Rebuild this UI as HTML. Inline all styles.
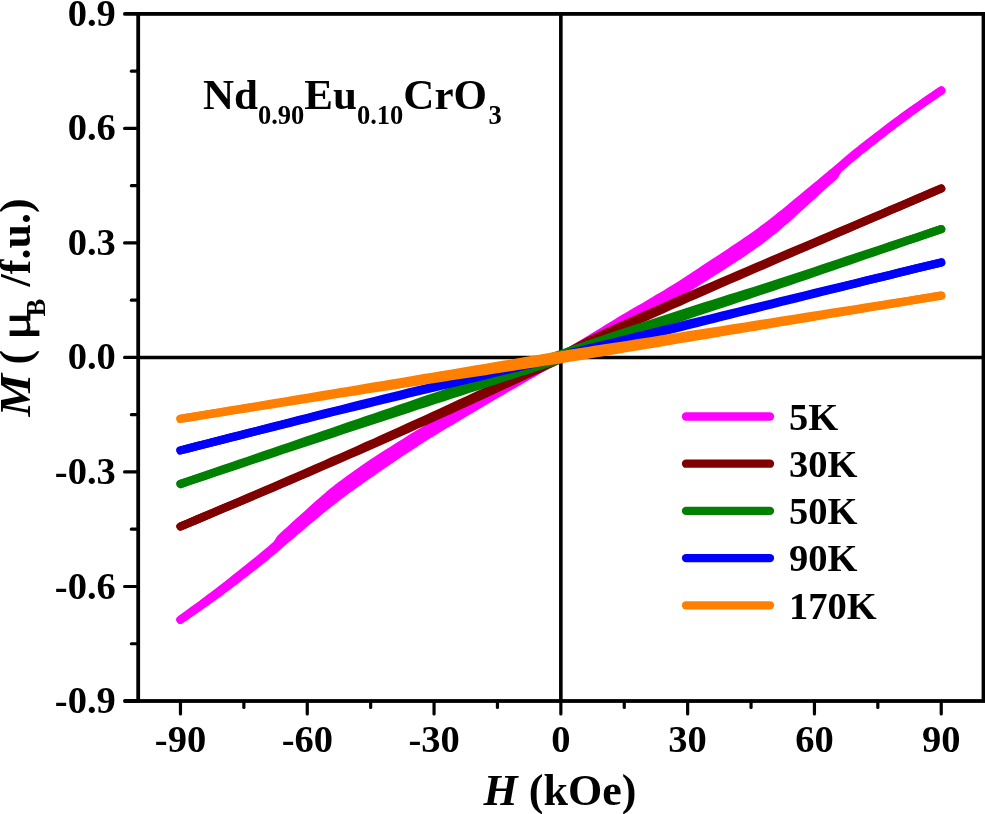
<!DOCTYPE html>
<html lang="en"><head><meta charset="utf-8"><title>M-H curves Nd0.90Eu0.10CrO3</title>
<style>
html,body{margin:0;padding:0;background:#fff;}
body{width:985px;height:814px;overflow:hidden;}
svg{display:block;will-change:transform;}
text{font-family:"Liberation Serif", "DejaVu Serif", serif;font-weight:bold;fill:#000;}
.tk{font-size:38.5px;}
.lg{font-size:38.5px;}
.ax{font-size:44px;}
.tt{font-size:43px;}
.it{font-style:italic;}
</style></head><body>
<svg width="985" height="814" viewBox="0 0 985 814">
<rect x="0" y="0" width="985" height="814" fill="#fff"/>
<g stroke="#000" fill="none">
<line x1="560.85" y1="13.90" x2="560.85" y2="701.00" stroke-width="3.6"/>
<line x1="138.20" y1="357.45" x2="983.50" y2="357.45" stroke-width="3.6"/>
</g>
<path d="M180.5,619.7 L184.7,616.6 L188.9,613.5 L193.1,610.4 L197.4,607.3 L201.6,604.2 L205.8,601.1 L210.1,597.9 L214.3,594.7 L218.5,591.5 L222.7,588.3 L227.0,585.0 L231.2,581.6 L235.4,578.2 L239.6,574.9 L243.9,571.5 L248.1,568.1 L252.3,564.8 L256.5,561.4 L260.8,558.0 L265.0,554.5 L269.2,551.0 L273.4,547.3 L276.8,544.4 L277.7,543.1 L280.6,538.4 L281.9,537.2 L286.1,533.3 L290.4,529.5 L294.6,525.6 L298.8,521.8 L303.0,518.0 L307.3,514.2 L311.5,510.4 L315.7,506.6 L319.9,502.8 L324.2,499.2 L328.4,495.5 L332.6,492.0 L336.8,488.6 L341.1,485.4 L345.3,482.2 L349.5,479.1 L353.8,476.0 L358.0,473.0 L362.2,470.0 L366.4,467.1 L370.7,464.3 L374.9,461.5 L379.1,458.8 L383.3,456.0 L387.6,453.3 L391.8,450.6 L396.0,447.9 L400.2,445.3 L404.5,442.6 L408.7,440.0 L412.9,437.3 L417.1,434.8 L421.4,432.2 L425.6,429.7 L429.8,427.2 L434.1,424.7 L438.3,422.3 L442.5,419.9 L446.7,417.5 L451.0,415.2 L455.2,412.8 L459.4,410.4 L463.6,408.0 L467.9,405.6 L472.1,403.3 L476.3,400.9 L480.5,398.6 L484.8,396.3 L489.0,394.0 L493.2,391.7 L497.5,389.5 L501.7,387.3 L505.9,385.1 L510.1,382.9 L514.4,380.6 L518.6,378.4 L522.8,376.1 L527.0,373.9 L531.3,371.6 L535.5,369.4 L539.7,367.1 L543.9,364.9 L548.2,362.6 L552.4,360.4 L556.6,358.2 L560.9,356.2 L565.1,354.0 L569.3,351.5 L573.5,349.0 L577.8,346.5 L582.0,344.0 L586.2,341.5 L590.4,338.9 L594.7,336.3 L598.9,333.8 L603.1,331.2 L607.3,328.6 L611.6,326.0 L615.8,323.4 L620.0,320.8 L624.2,318.3 L628.5,315.8 L632.7,313.3 L636.9,310.8 L641.2,308.4 L645.4,305.9 L649.6,303.4 L653.8,300.9 L658.1,298.4 L662.3,295.9 L666.5,293.4 L670.7,290.8 L675.0,288.3 L679.2,285.6 L683.4,283.0 L687.6,280.3 L691.9,277.5 L696.1,274.7 L700.3,271.9 L704.6,269.0 L708.8,266.2 L713.0,263.4 L717.2,260.6 L721.5,257.9 L725.7,255.1 L729.9,252.3 L734.1,249.5 L738.4,246.7 L742.6,243.8 L746.8,240.9 L751.0,238.0 L755.3,235.0 L759.5,232.0 L763.7,228.9 L767.9,225.7 L772.2,222.5 L776.4,219.2 L780.6,215.8 L784.9,212.4 L789.1,209.0 L793.3,205.5 L797.5,202.0 L801.8,198.5 L806.0,195.0 L810.2,191.5 L814.4,188.0 L818.7,184.5 L822.9,180.9 L827.1,177.4 L831.3,173.8 L834.3,171.4 L835.6,170.3 L838.1,168.2 L839.8,166.7 L844.0,163.1 L848.3,159.5 L852.5,156.0 L856.7,152.5 L860.9,149.1 L865.2,145.8 L869.4,142.5 L873.6,139.2 L877.8,136.0 L882.1,132.8 L886.3,129.5 L890.5,126.3 L894.7,123.1 L899.0,120.0 L903.2,116.9 L907.4,113.9 L911.6,110.9 L915.9,107.9 L920.1,105.0 L924.3,102.1 L928.6,99.2 L932.8,96.3 L937.0,93.4 L941.2,90.6" fill="none" stroke="#ff00ff" stroke-width="8.2" stroke-linecap="round" stroke-linejoin="round"/>
<path d="M180.5,619.7 L184.7,616.9 L188.9,614.0 L193.1,611.1 L197.4,608.2 L201.6,605.2 L205.8,602.2 L210.1,599.2 L214.3,596.2 L218.5,593.1 L222.7,590.0 L227.0,586.8 L231.2,583.6 L235.4,580.4 L239.6,577.1 L243.9,573.8 L248.1,570.5 L252.3,567.3 L256.5,564.0 L260.8,560.6 L265.0,557.2 L269.2,553.7 L273.4,550.1 L276.8,547.2 L277.7,546.5 L280.6,543.9 L281.9,542.8 L286.1,539.2 L290.4,535.6 L294.6,532.0 L298.8,528.5 L303.0,524.9 L307.3,521.4 L311.5,517.9 L315.7,514.3 L319.9,510.8 L324.2,507.4 L328.4,504.0 L332.6,500.7 L336.8,497.5 L341.1,494.3 L345.3,491.1 L349.5,488.0 L353.8,484.9 L358.0,481.9 L362.2,478.9 L366.4,475.9 L370.7,473.0 L374.9,470.1 L379.1,467.2 L383.3,464.3 L387.6,461.5 L391.8,458.6 L396.0,455.7 L400.2,452.9 L404.5,450.1 L408.7,447.3 L412.9,444.5 L417.1,441.8 L421.4,439.1 L425.6,436.4 L429.8,433.8 L434.1,431.2 L438.3,428.6 L442.5,426.1 L446.7,423.6 L451.0,421.1 L455.2,418.6 L459.4,416.1 L463.6,413.5 L467.9,411.0 L472.1,408.4 L476.3,405.9 L480.5,403.4 L484.8,400.9 L489.0,398.4 L493.2,396.0 L497.5,393.5 L501.7,391.1 L505.9,388.6 L510.1,386.2 L514.4,383.8 L518.6,381.4 L522.8,379.0 L527.0,376.5 L531.3,374.1 L535.5,371.7 L539.7,369.3 L543.9,366.9 L548.2,364.5 L552.4,362.2 L556.6,359.8 L560.9,357.8 L565.1,355.6 L569.3,353.3 L573.5,350.9 L577.8,348.5 L582.0,346.1 L586.2,343.8 L590.4,341.4 L594.7,339.0 L598.9,336.6 L603.1,334.2 L607.3,331.8 L611.6,329.5 L615.8,327.1 L620.0,324.8 L624.2,322.5 L628.5,320.3 L632.7,318.1 L636.9,315.9 L641.2,313.6 L645.4,311.4 L649.6,309.1 L653.8,306.9 L658.1,304.6 L662.3,302.3 L666.5,300.0 L670.7,297.6 L675.0,295.2 L679.2,292.8 L683.4,290.3 L687.6,287.8 L691.9,285.2 L696.1,282.6 L700.3,279.9 L704.6,277.2 L708.8,274.5 L713.0,271.8 L717.2,269.2 L721.5,266.5 L725.7,263.8 L729.9,261.1 L734.1,258.3 L738.4,255.6 L742.6,252.8 L746.8,249.9 L751.0,247.0 L755.3,244.0 L759.5,240.9 L763.7,237.7 L767.9,234.4 L772.2,231.1 L776.4,227.6 L780.6,224.0 L784.9,220.3 L789.1,216.6 L793.3,212.8 L797.5,209.0 L801.8,205.2 L806.0,201.3 L810.2,197.4 L814.4,193.6 L818.7,189.8 L822.9,186.0 L827.1,182.2 L831.3,178.4 L834.3,175.8 L835.6,173.6 L838.1,169.4 L839.8,167.9 L844.0,164.3 L848.3,160.7 L852.5,157.1 L856.7,153.7 L860.9,150.2 L865.2,146.9 L869.4,143.6 L873.6,140.3 L877.8,137.0 L882.1,133.7 L886.3,130.4 L890.5,127.2 L894.7,124.0 L899.0,120.8 L903.2,117.7 L907.4,114.5 L911.6,111.4 L915.9,108.3 L920.1,105.2 L924.3,102.2 L928.6,99.2 L932.8,96.3 L937.0,93.4 L941.2,90.6" fill="none" stroke="#ff00ff" stroke-width="8.2" stroke-linecap="round" stroke-linejoin="round"/>
<path d="M180.5,619.7 L184.7,616.6 L188.9,613.5 L193.1,610.4 L197.4,607.3 L201.6,604.2 L205.8,601.1 L210.1,597.9 L214.3,594.7 L218.5,591.5 L222.7,588.3 L227.0,585.0 L231.2,581.6 L235.4,578.2 L239.6,574.9 L243.9,571.5 L248.1,568.1 L252.3,564.8 L256.5,561.4 L260.8,558.0 L265.0,554.5 L269.2,551.0 L273.4,547.3 L276.8,544.4 L277.7,543.1 L280.6,538.4 L281.9,537.2 L286.1,533.3 L290.4,529.5 L294.6,525.6 L298.8,521.8 L303.0,518.0 L307.3,514.2 L311.5,510.4 L315.7,506.6 L319.9,502.8 L324.2,499.2 L328.4,495.5 L332.6,492.0 L336.8,488.6 L341.1,485.4 L345.3,482.2 L349.5,479.1 L353.8,476.0 L358.0,473.0 L362.2,470.0 L366.4,467.1 L370.7,464.3 L374.9,461.5 L379.1,458.8 L383.3,456.0 L387.6,453.3 L391.8,450.6 L396.0,447.9 L400.2,445.3 L404.5,442.6 L408.7,440.0 L412.9,437.3 L417.1,434.8 L421.4,432.2 L425.6,429.7 L429.8,427.2 L434.1,424.7 L438.3,422.3 L442.5,419.9 L446.7,417.5 L451.0,415.2 L455.2,412.8 L459.4,410.4 L463.6,408.0 L467.9,405.6 L472.1,403.3 L476.3,400.9 L480.5,398.6 L484.8,396.3 L489.0,394.0 L493.2,391.7 L497.5,389.5 L501.7,387.3 L505.9,385.1 L510.1,382.9 L514.4,380.6 L518.6,378.4 L522.8,376.1 L527.0,373.9 L531.3,371.6 L535.5,369.4 L539.7,367.1 L543.9,364.9 L548.2,362.6 L552.4,360.4 L556.6,358.2 L560.9,356.2 L565.1,354.0 L569.3,351.5 L573.5,349.0 L577.8,346.5 L582.0,344.0 L586.2,341.5 L590.4,338.9 L594.7,336.3 L598.9,333.8 L603.1,331.2 L607.3,328.6 L611.6,326.0 L615.8,323.4 L620.0,320.8 L624.2,318.3 L628.5,315.8 L632.7,313.3 L636.9,310.8 L641.2,308.4 L645.4,305.9 L649.6,303.4 L653.8,300.9 L658.1,298.4 L662.3,295.9 L666.5,293.4 L670.7,290.8 L675.0,288.3 L679.2,285.6 L683.4,283.0 L687.6,280.3 L691.9,277.5 L696.1,274.7 L700.3,271.9 L704.6,269.0 L708.8,266.2 L713.0,263.4 L717.2,260.6 L721.5,257.9 L725.7,255.1 L729.9,252.3 L734.1,249.5 L738.4,246.7 L742.6,243.8 L746.8,240.9 L751.0,238.0 L755.3,235.0 L759.5,232.0 L763.7,228.9 L767.9,225.7 L772.2,222.5 L776.4,219.2 L780.6,215.8 L784.9,212.4 L789.1,209.0 L793.3,205.5 L797.5,202.0 L801.8,198.5 L806.0,195.0 L810.2,191.5 L814.4,188.0 L818.7,184.5 L822.9,180.9 L827.1,177.4 L831.3,173.8 L834.3,171.4 L835.6,170.3 L838.1,168.2 L839.8,166.7 L844.0,163.1 L848.3,159.5 L852.5,156.0 L856.7,152.5 L860.9,149.1 L865.2,145.8 L869.4,142.5 L873.6,139.2 L877.8,136.0 L882.1,132.8 L886.3,129.5 L890.5,126.3 L894.7,123.1 L899.0,120.0 L903.2,116.9 L907.4,113.9 L911.6,110.9 L915.9,107.9 L920.1,105.0 L924.3,102.1 L928.6,99.2 L932.8,96.3 L937.0,93.4 L941.2,90.6 L941.2,90.6 L937.0,93.4 L932.8,96.3 L928.6,99.2 L924.3,102.2 L920.1,105.2 L915.9,108.3 L911.6,111.4 L907.4,114.5 L903.2,117.7 L899.0,120.8 L894.7,124.0 L890.5,127.2 L886.3,130.4 L882.1,133.7 L877.8,137.0 L873.6,140.3 L869.4,143.6 L865.2,146.9 L860.9,150.2 L856.7,153.7 L852.5,157.1 L848.3,160.7 L844.0,164.3 L839.8,167.9 L838.1,169.4 L835.6,173.6 L834.3,175.8 L831.3,178.4 L827.1,182.2 L822.9,186.0 L818.7,189.8 L814.4,193.6 L810.2,197.4 L806.0,201.3 L801.8,205.2 L797.5,209.0 L793.3,212.8 L789.1,216.6 L784.9,220.3 L780.6,224.0 L776.4,227.6 L772.2,231.1 L767.9,234.4 L763.7,237.7 L759.5,240.9 L755.3,244.0 L751.0,247.0 L746.8,249.9 L742.6,252.8 L738.4,255.6 L734.1,258.3 L729.9,261.1 L725.7,263.8 L721.5,266.5 L717.2,269.2 L713.0,271.8 L708.8,274.5 L704.6,277.2 L700.3,279.9 L696.1,282.6 L691.9,285.2 L687.6,287.8 L683.4,290.3 L679.2,292.8 L675.0,295.2 L670.7,297.6 L666.5,300.0 L662.3,302.3 L658.1,304.6 L653.8,306.9 L649.6,309.1 L645.4,311.4 L641.2,313.6 L636.9,315.9 L632.7,318.1 L628.5,320.3 L624.2,322.5 L620.0,324.8 L615.8,327.1 L611.6,329.5 L607.3,331.8 L603.1,334.2 L598.9,336.6 L594.7,339.0 L590.4,341.4 L586.2,343.8 L582.0,346.1 L577.8,348.5 L573.5,350.9 L569.3,353.3 L565.1,355.6 L560.9,357.8 L556.6,359.8 L552.4,362.2 L548.2,364.5 L543.9,366.9 L539.7,369.3 L535.5,371.7 L531.3,374.1 L527.0,376.5 L522.8,379.0 L518.6,381.4 L514.4,383.8 L510.1,386.2 L505.9,388.6 L501.7,391.1 L497.5,393.5 L493.2,396.0 L489.0,398.4 L484.8,400.9 L480.5,403.4 L476.3,405.9 L472.1,408.4 L467.9,411.0 L463.6,413.5 L459.4,416.1 L455.2,418.6 L451.0,421.1 L446.7,423.6 L442.5,426.1 L438.3,428.6 L434.1,431.2 L429.8,433.8 L425.6,436.4 L421.4,439.1 L417.1,441.8 L412.9,444.5 L408.7,447.3 L404.5,450.1 L400.2,452.9 L396.0,455.7 L391.8,458.6 L387.6,461.5 L383.3,464.3 L379.1,467.2 L374.9,470.1 L370.7,473.0 L366.4,475.9 L362.2,478.9 L358.0,481.9 L353.8,484.9 L349.5,488.0 L345.3,491.1 L341.1,494.3 L336.8,497.5 L332.6,500.7 L328.4,504.0 L324.2,507.4 L319.9,510.8 L315.7,514.3 L311.5,517.9 L307.3,521.4 L303.0,524.9 L298.8,528.5 L294.6,532.0 L290.4,535.6 L286.1,539.2 L281.9,542.8 L280.6,543.9 L277.7,546.5 L276.8,547.2 L273.4,550.1 L269.2,553.7 L265.0,557.2 L260.8,560.6 L256.5,564.0 L252.3,567.3 L248.1,570.5 L243.9,573.8 L239.6,577.1 L235.4,580.4 L231.2,583.6 L227.0,586.8 L222.7,590.0 L218.5,593.1 L214.3,596.2 L210.1,599.2 L205.8,602.2 L201.6,605.2 L197.4,608.2 L193.1,611.1 L188.9,614.0 L184.7,616.9 L180.5,619.7Z" fill="#ff00ff" stroke="none"/>
<path d="M180.5,526.5 L188.9,522.9 L197.4,519.4 L205.8,515.8 L214.3,512.2 L222.7,508.6 L231.2,505.0 L239.6,501.4 L248.1,497.8 L256.5,494.2 L265.0,490.5 L273.4,486.9 L281.9,483.3 L290.4,479.6 L298.8,475.9 L307.3,472.3 L315.7,468.6 L324.2,464.9 L332.6,461.1 L341.1,457.4 L349.5,453.7 L358.0,449.9 L366.4,446.1 L374.9,442.4 L383.3,438.6 L391.8,434.7 L400.2,430.9 L408.7,427.1 L417.1,423.2 L425.6,419.4 L434.1,415.5 L442.5,411.6 L451.0,407.7 L459.4,403.8 L467.9,399.9 L476.3,395.9 L484.8,392.0 L493.2,388.0 L501.7,384.1 L510.1,380.1 L518.6,376.2 L527.0,372.2 L535.5,368.2 L543.9,364.2 L552.4,360.2 L560.9,356.2 L569.3,351.4 L577.8,346.8 L586.2,342.3 L594.7,338.2 L603.1,334.2 L611.6,330.3 L620.0,326.5 L628.5,322.7 L636.9,318.9 L645.4,315.1 L653.8,311.4 L662.3,307.7 L670.7,304.0 L679.2,300.3 L687.6,296.6 L696.1,292.9 L704.6,289.3 L713.0,285.7 L721.5,282.0 L729.9,278.4 L738.4,274.8 L746.8,271.2 L755.3,267.5 L763.7,263.9 L772.2,260.3 L780.6,256.7 L789.1,253.1 L797.5,249.6 L806.0,246.0 L814.4,242.4 L822.9,238.8 L831.3,235.2 L839.8,231.6 L848.3,228.0 L856.7,224.4 L865.2,220.8 L873.6,217.3 L882.1,213.7 L890.5,210.1 L899.0,206.5 L907.4,202.9 L915.9,199.3 L924.3,195.7 L932.8,192.1 L941.2,188.5" fill="none" stroke="#800000" stroke-width="8.2" stroke-linecap="round" stroke-linejoin="round"/>
<path d="M180.5,526.5 L188.9,523.0 L197.4,519.4 L205.8,515.9 L214.3,512.3 L222.7,508.8 L231.2,505.2 L239.6,501.7 L248.1,498.1 L256.5,494.5 L265.0,491.0 L273.4,487.4 L281.9,483.8 L290.4,480.2 L298.8,476.6 L307.3,472.9 L315.7,469.3 L324.2,465.6 L332.6,462.0 L341.1,458.3 L349.5,454.6 L358.0,450.9 L366.4,447.2 L374.9,443.5 L383.3,439.7 L391.8,436.0 L400.2,432.2 L408.7,428.4 L417.1,424.6 L425.6,420.9 L434.1,417.0 L442.5,413.2 L451.0,409.4 L459.4,405.5 L467.9,401.7 L476.3,397.8 L484.8,393.9 L493.2,390.0 L501.7,386.1 L510.1,382.2 L518.6,378.3 L527.0,374.4 L535.5,370.5 L543.9,366.6 L552.4,362.7 L560.9,358.8 L569.3,353.9 L577.8,349.1 L586.2,344.6 L594.7,340.5 L603.1,336.4 L611.6,332.4 L620.0,328.5 L628.5,324.7 L636.9,320.8 L645.4,317.0 L653.8,313.2 L662.3,309.4 L670.7,305.6 L679.2,301.9 L687.6,298.1 L696.1,294.4 L704.6,290.7 L713.0,287.0 L721.5,283.3 L729.9,279.6 L738.4,275.9 L746.8,272.3 L755.3,268.6 L763.7,264.9 L772.2,261.3 L780.6,257.6 L789.1,254.0 L797.5,250.3 L806.0,246.7 L814.4,243.0 L822.9,239.4 L831.3,235.8 L839.8,232.1 L848.3,228.5 L856.7,224.8 L865.2,221.2 L873.6,217.6 L882.1,213.9 L890.5,210.3 L899.0,206.7 L907.4,203.0 L915.9,199.4 L924.3,195.8 L932.8,192.1 L941.2,188.5" fill="none" stroke="#800000" stroke-width="8.2" stroke-linecap="round" stroke-linejoin="round"/>
<path d="M180.5,484.0 L188.9,481.1 L197.4,478.2 L205.8,475.3 L214.3,472.4 L222.7,469.5 L231.2,466.6 L239.6,463.7 L248.1,460.8 L256.5,457.9 L265.0,455.0 L273.4,452.1 L281.9,449.2 L290.4,446.3 L298.8,443.4 L307.3,440.5 L315.7,437.6 L324.2,434.7 L332.6,431.8 L341.1,428.9 L349.5,426.0 L358.0,423.1 L366.4,420.2 L374.9,417.3 L383.3,414.5 L391.8,411.6 L400.2,408.7 L408.7,405.8 L417.1,402.9 L425.6,400.0 L434.1,397.1 L442.5,394.3 L451.0,391.4 L459.4,388.5 L467.9,385.6 L476.3,382.8 L484.8,379.9 L493.2,377.0 L501.7,374.1 L510.1,371.3 L518.6,368.4 L527.0,365.5 L535.5,362.7 L543.9,359.8 L552.4,356.9 L560.9,354.1 L569.3,351.1 L577.8,348.2 L586.2,345.3 L594.7,342.4 L603.1,339.6 L611.6,336.7 L620.0,333.9 L628.5,331.1 L636.9,328.4 L645.4,325.6 L653.8,322.9 L662.3,320.1 L670.7,317.4 L679.2,314.6 L687.6,311.9 L696.1,309.2 L704.6,306.5 L713.0,303.8 L721.5,301.2 L729.9,298.5 L738.4,295.9 L746.8,293.2 L755.3,290.6 L763.7,287.9 L772.2,285.2 L780.6,282.4 L789.1,279.6 L797.5,276.9 L806.0,274.1 L814.4,271.3 L822.9,268.5 L831.3,265.7 L839.8,262.8 L848.3,260.0 L856.7,257.2 L865.2,254.4 L873.6,251.6 L882.1,248.8 L890.5,246.0 L899.0,243.2 L907.4,240.4 L915.9,237.6 L924.3,234.8 L932.8,231.9 L941.2,229.1" fill="none" stroke="#008000" stroke-width="8.2" stroke-linecap="round" stroke-linejoin="round"/>
<path d="M180.5,484.0 L188.9,481.2 L197.4,478.3 L205.8,475.5 L214.3,472.7 L222.7,469.9 L231.2,467.1 L239.6,464.3 L248.1,461.4 L256.5,458.6 L265.0,455.8 L273.4,453.0 L281.9,450.2 L290.4,447.4 L298.8,444.6 L307.3,441.8 L315.7,439.0 L324.2,436.3 L332.6,433.5 L341.1,430.7 L349.5,427.9 L358.0,425.1 L366.4,422.4 L374.9,419.6 L383.3,416.8 L391.8,414.0 L400.2,411.3 L408.7,408.5 L417.1,405.7 L425.6,403.0 L434.1,400.2 L442.5,397.5 L451.0,394.7 L459.4,392.0 L467.9,389.2 L476.3,386.5 L484.8,383.7 L493.2,381.0 L501.7,378.2 L510.1,375.5 L518.6,372.7 L527.0,370.0 L535.5,367.3 L543.9,364.5 L552.4,361.8 L560.9,359.1 L569.3,356.0 L577.8,352.9 L586.2,349.9 L594.7,346.9 L603.1,343.9 L611.6,340.9 L620.0,338.0 L628.5,335.1 L636.9,332.2 L645.4,329.3 L653.8,326.4 L662.3,323.6 L670.7,320.7 L679.2,317.8 L687.6,315.0 L696.1,312.1 L704.6,309.3 L713.0,306.5 L721.5,303.8 L729.9,301.0 L738.4,298.2 L746.8,295.5 L755.3,292.7 L763.7,289.9 L772.2,287.1 L780.6,284.2 L789.1,281.3 L797.5,278.4 L806.0,275.5 L814.4,272.6 L822.9,269.7 L831.3,266.8 L839.8,263.9 L848.3,261.0 L856.7,258.1 L865.2,255.2 L873.6,252.3 L882.1,249.4 L890.5,246.5 L899.0,243.6 L907.4,240.7 L915.9,237.8 L924.3,234.9 L932.8,232.0 L941.2,229.1" fill="none" stroke="#008000" stroke-width="8.2" stroke-linecap="round" stroke-linejoin="round"/>
<path d="M180.5,450.4 L188.9,448.2 L197.4,446.0 L205.8,443.9 L214.3,441.7 L222.7,439.5 L231.2,437.3 L239.6,435.2 L248.1,433.0 L256.5,430.9 L265.0,428.7 L273.4,426.5 L281.9,424.4 L290.4,422.2 L298.8,420.0 L307.3,417.9 L315.7,415.7 L324.2,413.6 L332.6,411.5 L341.1,409.4 L349.5,407.2 L358.0,405.1 L366.4,403.0 L374.9,400.9 L383.3,398.8 L391.8,396.7 L400.2,394.7 L408.7,392.6 L417.1,390.5 L425.6,388.4 L434.1,386.3 L442.5,384.2 L451.0,382.1 L459.4,380.1 L467.9,378.0 L476.3,375.9 L484.8,373.8 L493.2,371.8 L501.7,369.7 L510.1,367.6 L518.6,365.6 L527.0,363.6 L535.5,361.5 L543.9,359.5 L552.4,357.4 L560.9,355.4 L569.3,353.3 L577.8,351.2 L586.2,349.1 L594.7,347.0 L603.1,345.0 L611.6,342.9 L620.0,340.8 L628.5,338.7 L636.9,336.6 L645.4,334.5 L653.8,332.4 L662.3,330.3 L670.7,328.3 L679.2,326.2 L687.6,324.1 L696.1,322.0 L704.6,320.0 L713.0,317.9 L721.5,315.8 L729.9,313.7 L738.4,311.7 L746.8,309.6 L755.3,307.5 L763.7,305.5 L772.2,303.4 L780.6,301.3 L789.1,299.3 L797.5,297.2 L806.0,295.2 L814.4,293.1 L822.9,291.1 L831.3,289.0 L839.8,287.0 L848.3,284.9 L856.7,282.9 L865.2,280.8 L873.6,278.8 L882.1,276.7 L890.5,274.7 L899.0,272.6 L907.4,270.6 L915.9,268.5 L924.3,266.5 L932.8,264.4 L941.2,262.4" fill="none" stroke="#0000ff" stroke-width="8.2" stroke-linecap="round" stroke-linejoin="round"/>
<path d="M180.5,450.4 L188.9,448.2 L197.4,446.1 L205.8,443.9 L214.3,441.8 L222.7,439.7 L231.2,437.5 L239.6,435.4 L248.1,433.3 L256.5,431.1 L265.0,429.0 L273.4,426.9 L281.9,424.8 L290.4,422.7 L298.8,420.5 L307.3,418.4 L315.7,416.3 L324.2,414.2 L332.6,412.1 L341.1,410.1 L349.5,408.0 L358.0,405.9 L366.4,403.9 L374.9,401.8 L383.3,399.8 L391.8,397.7 L400.2,395.7 L408.7,393.6 L417.1,391.6 L425.6,389.6 L434.1,387.5 L442.5,385.5 L451.0,383.5 L459.4,381.4 L467.9,379.4 L476.3,377.4 L484.8,375.4 L493.2,373.3 L501.7,371.3 L510.1,369.3 L518.6,367.3 L527.0,365.3 L535.5,363.4 L543.9,361.4 L552.4,359.4 L560.9,357.4 L569.3,355.3 L577.8,353.1 L586.2,351.0 L594.7,348.8 L603.1,346.7 L611.6,344.5 L620.0,342.4 L628.5,340.3 L636.9,338.1 L645.4,336.0 L653.8,333.9 L662.3,331.7 L670.7,329.6 L679.2,327.5 L687.6,325.3 L696.1,323.2 L704.6,321.1 L713.0,319.0 L721.5,316.8 L729.9,314.7 L738.4,312.6 L746.8,310.5 L755.3,308.4 L763.7,306.3 L772.2,304.2 L780.6,302.1 L789.1,300.0 L797.5,297.9 L806.0,295.8 L814.4,293.7 L822.9,291.6 L831.3,289.5 L839.8,287.4 L848.3,285.3 L856.7,283.2 L865.2,281.1 L873.6,279.0 L882.1,276.9 L890.5,274.9 L899.0,272.8 L907.4,270.7 L915.9,268.6 L924.3,266.5 L932.8,264.5 L941.2,262.4" fill="none" stroke="#0000ff" stroke-width="8.2" stroke-linecap="round" stroke-linejoin="round"/>
<path d="M180.5,418.8 L188.9,417.4 L197.4,416.0 L205.8,414.6 L214.3,413.2 L222.7,411.8 L231.2,410.4 L239.6,409.0 L248.1,407.6 L256.5,406.2 L265.0,404.8 L273.4,403.4 L281.9,402.0 L290.4,400.6 L298.8,399.1 L307.3,397.7 L315.7,396.3 L324.2,394.9 L332.6,393.5 L341.1,392.1 L349.5,390.7 L358.0,389.3 L366.4,387.8 L374.9,386.4 L383.3,385.0 L391.8,383.6 L400.2,382.2 L408.7,380.8 L417.1,379.3 L425.6,377.9 L434.1,376.5 L442.5,375.1 L451.0,373.7 L459.4,372.2 L467.9,370.8 L476.3,369.4 L484.8,368.0 L493.2,366.6 L501.7,365.1 L510.1,363.7 L518.6,362.3 L527.0,360.9 L535.5,359.5 L543.9,358.0 L552.4,356.6 L560.9,355.2 L569.3,353.9 L577.8,352.6 L586.2,351.3 L594.7,349.9 L603.1,348.6 L611.6,347.3 L620.0,346.0 L628.5,344.7 L636.9,343.3 L645.4,342.0 L653.8,340.7 L662.3,339.4 L670.7,338.1 L679.2,336.8 L687.6,335.4 L696.1,334.1 L704.6,332.8 L713.0,331.5 L721.5,330.2 L729.9,328.8 L738.4,327.5 L746.8,326.2 L755.3,324.9 L763.7,323.5 L772.2,322.2 L780.6,320.9 L789.1,319.6 L797.5,318.2 L806.0,316.9 L814.4,315.6 L822.9,314.3 L831.3,312.9 L839.8,311.6 L848.3,310.3 L856.7,309.0 L865.2,307.6 L873.6,306.3 L882.1,305.0 L890.5,303.6 L899.0,302.3 L907.4,301.0 L915.9,299.6 L924.3,298.3 L932.8,296.9 L941.2,295.6" fill="none" stroke="#ff8000" stroke-width="8.2" stroke-linecap="round" stroke-linejoin="round"/>
<path d="M180.5,418.8 L188.9,417.5 L197.4,416.1 L205.8,414.8 L214.3,413.4 L222.7,412.1 L231.2,410.8 L239.6,409.4 L248.1,408.1 L256.5,406.8 L265.0,405.4 L273.4,404.1 L281.9,402.8 L290.4,401.5 L298.8,400.1 L307.3,398.8 L315.7,397.5 L324.2,396.2 L332.6,394.8 L341.1,393.5 L349.5,392.2 L358.0,390.9 L366.4,389.5 L374.9,388.2 L383.3,386.9 L391.8,385.6 L400.2,384.2 L408.7,382.9 L417.1,381.6 L425.6,380.3 L434.1,379.0 L442.5,377.6 L451.0,376.3 L459.4,375.0 L467.9,373.7 L476.3,372.4 L484.8,371.1 L493.2,369.7 L501.7,368.4 L510.1,367.1 L518.6,365.8 L527.0,364.5 L535.5,363.1 L543.9,361.8 L552.4,360.5 L560.9,359.2 L569.3,357.8 L577.8,356.4 L586.2,354.9 L594.7,353.5 L603.1,352.1 L611.6,350.7 L620.0,349.3 L628.5,347.8 L636.9,346.4 L645.4,345.0 L653.8,343.6 L662.3,342.2 L670.7,340.7 L679.2,339.3 L687.6,337.9 L696.1,336.5 L704.6,335.1 L713.0,333.6 L721.5,332.2 L729.9,330.8 L738.4,329.4 L746.8,328.0 L755.3,326.6 L763.7,325.1 L772.2,323.7 L780.6,322.3 L789.1,320.9 L797.5,319.5 L806.0,318.1 L814.4,316.7 L822.9,315.3 L831.3,313.8 L839.8,312.4 L848.3,311.0 L856.7,309.6 L865.2,308.2 L873.6,306.8 L882.1,305.4 L890.5,304.0 L899.0,302.6 L907.4,301.2 L915.9,299.8 L924.3,298.4 L932.8,297.0 L941.2,295.6" fill="none" stroke="#ff8000" stroke-width="8.2" stroke-linecap="round" stroke-linejoin="round"/>
<g stroke="#000" fill="none" stroke-linecap="butt">
<rect x="138.20" y="13.90" width="845.30" height="687.10" stroke-width="3.8"/>
</g>
<g stroke="#000" stroke-width="3.2" stroke-linecap="round">
<line x1="124.9" y1="701.00" x2="138.2" y2="701.00" stroke-width="3.8"/>
<line x1="131.4" y1="643.74" x2="138.2" y2="643.74"/>
<line x1="124.6" y1="586.48" x2="138.2" y2="586.48"/>
<line x1="131.4" y1="529.22" x2="138.2" y2="529.22"/>
<line x1="124.6" y1="471.97" x2="138.2" y2="471.97"/>
<line x1="131.4" y1="414.71" x2="138.2" y2="414.71"/>
<line x1="124.6" y1="357.45" x2="138.2" y2="357.45"/>
<line x1="131.4" y1="300.19" x2="138.2" y2="300.19"/>
<line x1="124.6" y1="242.93" x2="138.2" y2="242.93"/>
<line x1="131.4" y1="185.68" x2="138.2" y2="185.68"/>
<line x1="124.6" y1="128.42" x2="138.2" y2="128.42"/>
<line x1="131.4" y1="71.16" x2="138.2" y2="71.16"/>
<line x1="124.9" y1="13.90" x2="138.2" y2="13.90" stroke-width="3.8"/>
<line x1="180.47" y1="701.0" x2="180.47" y2="714.0"/>
<line x1="243.86" y1="701.0" x2="243.86" y2="707.4"/>
<line x1="307.26" y1="701.0" x2="307.26" y2="714.0"/>
<line x1="370.66" y1="701.0" x2="370.66" y2="707.4"/>
<line x1="434.06" y1="701.0" x2="434.06" y2="714.0"/>
<line x1="497.45" y1="701.0" x2="497.45" y2="707.4"/>
<line x1="560.85" y1="701.0" x2="560.85" y2="714.0"/>
<line x1="624.25" y1="701.0" x2="624.25" y2="707.4"/>
<line x1="687.64" y1="701.0" x2="687.64" y2="714.0"/>
<line x1="751.04" y1="701.0" x2="751.04" y2="707.4"/>
<line x1="814.44" y1="701.0" x2="814.44" y2="714.0"/>
<line x1="877.84" y1="701.0" x2="877.84" y2="707.4"/>
<line x1="941.24" y1="701.0" x2="941.24" y2="714.0"/>
</g>
<text class="tk" x="115.8" y="713.0" text-anchor="end">-0.9</text>
<text class="tk" x="115.8" y="598.5" text-anchor="end">-0.6</text>
<text class="tk" x="115.8" y="484.0" text-anchor="end">-0.3</text>
<text class="tk" x="115.8" y="369.4" text-anchor="end">0.0</text>
<text class="tk" x="115.8" y="254.9" text-anchor="end">0.3</text>
<text class="tk" x="115.8" y="140.4" text-anchor="end">0.6</text>
<text class="tk" x="115.8" y="25.9" text-anchor="end">0.9</text>
<text class="tk" x="180.5" y="752.3" text-anchor="middle">-90</text>
<text class="tk" x="307.3" y="752.3" text-anchor="middle">-60</text>
<text class="tk" x="434.1" y="752.3" text-anchor="middle">-30</text>
<text class="tk" x="560.9" y="752.3" text-anchor="middle">0</text>
<text class="tk" x="687.6" y="752.3" text-anchor="middle">30</text>
<text class="tk" x="814.4" y="752.3" text-anchor="middle">60</text>
<text class="tk" x="941.2" y="752.3" text-anchor="middle">90</text>
<text class="ax" x="560" y="805" text-anchor="middle"><tspan class="it">H</tspan> (kOe)</text>
<text class="ax it" transform="translate(30.2,416.6) rotate(-90) scale(1.09,1)" text-anchor="start">M</text>
<text class="ax" transform="translate(30.2,364.6) rotate(-90)" text-anchor="start">(</text>
<text class="ax" transform="translate(30.2,339.8) rotate(-90) scale(1.22,1)" text-anchor="start" style="font-weight:normal" stroke="#000" stroke-width="0.8">μ</text>
<text transform="translate(45.3,316.6) rotate(-90)" text-anchor="start" font-size="26.5px">B</text>
<text class="ax" transform="translate(30.2,198.4) rotate(-90)" text-anchor="end">/f.u.)</text>
<text class="tt" x="203" y="108.6">Nd<tspan font-size="26.5px" dy="15.5">0.90</tspan><tspan dy="-15.5">Eu</tspan><tspan font-size="26.5px" dy="15.5">0.10</tspan><tspan dy="-15.5">CrO</tspan><tspan font-size="26.5px" dy="15.5" dx="1.5">3</tspan></text>
<line x1="686" y1="416.5" x2="770" y2="416.5" stroke="#ff00ff" stroke-width="8.3" stroke-linecap="round"/>
<text class="lg" x="789" y="429.8">5K</text>
<line x1="686" y1="463.7" x2="770" y2="463.7" stroke="#800000" stroke-width="8.3" stroke-linecap="round"/>
<text class="lg" x="789" y="477.0">30K</text>
<line x1="686" y1="510.9" x2="770" y2="510.9" stroke="#008000" stroke-width="8.3" stroke-linecap="round"/>
<text class="lg" x="789" y="524.2">50K</text>
<line x1="686" y1="558.1" x2="770" y2="558.1" stroke="#0000ff" stroke-width="8.3" stroke-linecap="round"/>
<text class="lg" x="789" y="571.4">90K</text>
<line x1="686" y1="605.3" x2="770" y2="605.3" stroke="#ff8000" stroke-width="8.3" stroke-linecap="round"/>
<text class="lg" x="789" y="618.6">170K</text>
</svg>
</body></html>
